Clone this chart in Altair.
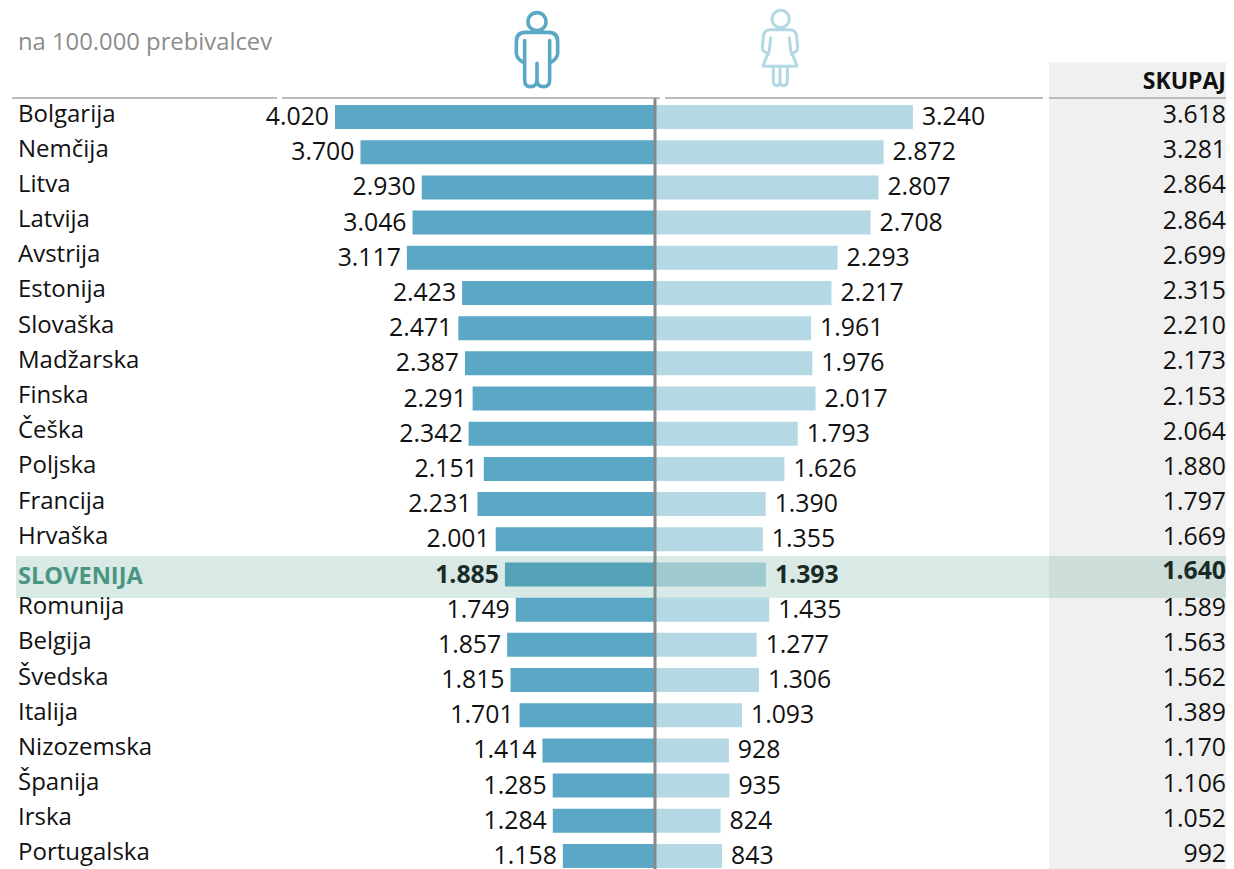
import altair as alt
import pandas as pd

countries = ["Bolgarija","Nemčija","Litva","Latvija","Avstrija","Estonija","Slovaška","Madžarska","Finska","Češka","Poljska","Francija","Hrvaška","SLOVENIJA","Romunija","Belgija","Švedska","Italija","Nizozemska","Španija","Irska","Portugalska"]
men = [4020,3700,2930,3046,3117,2423,2471,2387,2291,2342,2151,2231,2001,1885,1749,1857,1815,1701,1414,1285,1284,1158]
women = [3240,2872,2807,2708,2293,2217,1961,1976,2017,1793,1626,1390,1355,1393,1435,1277,1306,1093,928,935,824,843]
total = [3618,3281,2864,2864,2699,2315,2210,2173,2153,2064,1880,1797,1669,1640,1589,1563,1562,1389,1170,1106,1052,992]

FONT = "Open Sans"
FS = 24
FS_NUM = 24.8
W, H = 1218, 861
MEN_C, WOMEN_C = "#5AA7C6", "#B4D8E4"
fmt = lambda v: f"{v:,}".replace(",", ".")

df = pd.DataFrame({
    "row": range(len(countries)), "country": countries,
    "men": [-m for m in men], "women": women, "total": total,
    "zero": [0] * len(countries),
    "men_t": [fmt(v) for v in men], "women_t": [fmt(v) for v in women], "total_t": [fmt(v) for v in total],
})
normal = df[df.country != "SLOVENIJA"]
hi = df[df.country == "SLOVENIJA"]

xs = alt.Scale(domain=[-647 / 0.0796, (W - 647) / 0.0796], range=[0, W], nice=False, zero=False, padding=0)
ys = alt.Scale(domain=[-109 / 35.19, (H - 109) / 35.19], range=[0, H], nice=False, zero=False, padding=0)
X = lambda f: alt.X(f, type="quantitative", scale=xs, axis=None)
Y = lambda f: alt.Y(f, type="quantitative", scale=ys, axis=None)

panel = alt.Chart(pd.DataFrame({"a": [-1.55], "b": [22]})).mark_rect(color="#F0F0F0").encode(
    x=alt.value(1041), x2=alt.value(W), y=Y("a"), y2="b:Q")

rule_df = pd.DataFrame({"x0": [4, 274, 657, 1041], "x1": [269, 652, 1035, W], "r": [-0.54] * 4})
head_rules = alt.Chart(rule_df).mark_rule(color="#BBBBBB", strokeWidth=2).encode(
    x=alt.X("x0:Q", scale=None, axis=None), x2="x1:Q", y=Y("r"))

bar_men = alt.Chart(df).mark_bar(color=MEN_C, size=24, orient="horizontal").encode(
    x=X("men"), x2="zero:Q", y=Y("row"))
bar_women = alt.Chart(df).mark_bar(color=WOMEN_C, size=24, orient="horizontal").encode(
    x=X("women"), x2="zero:Q", y=Y("row"))
centre = alt.Chart(pd.DataFrame({"z": [0], "a": [-0.53], "b": [22]})).mark_rule(color="#888888", strokeWidth=3).encode(
    x=X("z"), y=Y("a"), y2="b:Q")

base_text = dict(font=FONT, fontSize=FS_NUM, color="#111111", baseline="middle")
lab = alt.Chart(normal).mark_text(align="left", dy=-2.5, font=FONT, fontSize=FS, color="#111111", baseline="middle").encode(
    x=alt.value(10), y=Y("row"), text="country:N")
lab_men = alt.Chart(normal).mark_text(align="right", dx=-6, dy=1, **base_text).encode(
    x=X("men"), y=Y("row"), text="men_t:N")
lab_women = alt.Chart(normal).mark_text(align="left", dx=9, dy=1, **base_text).encode(
    x=X("women"), y=Y("row"), text="women_t:N")
lab_total = alt.Chart(normal).mark_text(align="right", dy=-1, **base_text).encode(
    x=alt.value(1218), y=Y("row"), text="total_t:N")

bold = dict(base_text, fontWeight="bold")
hi_men = alt.Chart(hi).mark_text(align="right", dx=-6, dy=2, **bold).encode(
    x=X("men"), y=Y("row"), text="men_t:N")
hi_women = alt.Chart(hi).mark_text(align="left", dx=9, dy=2, **bold).encode(
    x=X("women"), y=Y("row"), text="women_t:N")
hi_total = alt.Chart(hi).mark_text(align="right", dy=-2, **bold).encode(
    x=alt.value(1218), y=Y("row"), text="total_t:N")

band = alt.Chart(pd.DataFrame({"a": [12.475], "b": [13.67]})).mark_rect(color="#3F8F7C", opacity=0.2).encode(
    x=alt.value(8), x2=alt.value(W), y=Y("a"), y2="b:Q")

hi_lab = alt.Chart(hi).mark_text(align="left", dy=3, font=FONT, fontSize=23.6, fontWeight="bold",
                                 color="#4A9682", baseline="middle").encode(
    x=alt.value(10), y=Y("row"), text="country:N")

subtitle = alt.Chart(pd.DataFrame({"t": ["na 100.000 prebivalcev"]})).mark_text(
    align="left", baseline="middle", font=FONT, fontSize=23.8, color="#8C8C8C").encode(
    x=alt.value(10), y=alt.value(35), text="t:N")
skupaj = alt.Chart(pd.DataFrame({"t": ["SKUPAJ"]})).mark_text(
    align="right", baseline="middle", font=FONT, fontSize=23, fontWeight="bold", color="#111111").encode(
    x=alt.value(1218), y=alt.value(74), text="t:N")

MAN = ("M27,-82 A27,27 0 1 0 -27,-82 A27,27 0 1 0 27,-82 "
       "M-40,41 C-55,33 -62,23 -62,13 L-62,-22 Q-62,-50 -35,-50 L35,-50 Q62,-50 62,-22 L62,13 C62,23 55,33 40,41 "
       "M-37,-25 L-37,93 Q-37,113 -20,113 Q0,113 0,93 L0,43 M0,93 Q0,113 20,113 Q38,113 38,93 L38,-25")
WOMAN = ("M28,-87 A26,26 0 1 0 -24,-87 A26,26 0 1 0 28,-87 "
         "M-35,20 L-50,8 Q-54,4 -53,-2 L-50,-35 Q-48,-55 -28,-55 L28,-55 Q48,-55 50,-35 L53,-2 Q54,4 50,8 L35,20 "
         "M-28,-30 L-32,8 L-50,50 Q-52,55 -48,55 L48,55 Q52,55 50,50 L32,8 L28,-30 "
         "M-20,55 L-20,100 Q-20,113 -10,113 Q0,113 0,100 L0,55 M0,100 Q0,113 10,113 Q22,113 22,100 L22,55")
ICON_SIZE = (2 / 3) ** 2
pt = pd.DataFrame({"k": [0]})
icon_m = alt.Chart(pt).mark_point(shape=MAN, size=ICON_SIZE, filled=False, color=MEN_C, strokeWidth=3.6,
                                  opacity=1, strokeCap="round").encode(x=alt.value(529), y=alt.value(41))
icon_w = alt.Chart(pt).mark_point(shape=WOMAN, size=ICON_SIZE, filled=False, color=WOMEN_C, strokeWidth=3,
                                  opacity=1, strokeCap="round").encode(x=alt.value(772), y=alt.value(40))

chart = alt.layer(
    panel, head_rules, bar_men, bar_women, centre,
    lab, lab_men, lab_women, lab_total, hi_men, hi_women, hi_total,
    band, hi_lab, subtitle, skupaj, icon_m, icon_w,
).properties(width=W, height=H, padding=0, autosize=alt.AutoSizeParams(type="none")
).configure_view(strokeWidth=0)

chart.save("out.html", embed_options={"renderer": "svg", "actions": False})
